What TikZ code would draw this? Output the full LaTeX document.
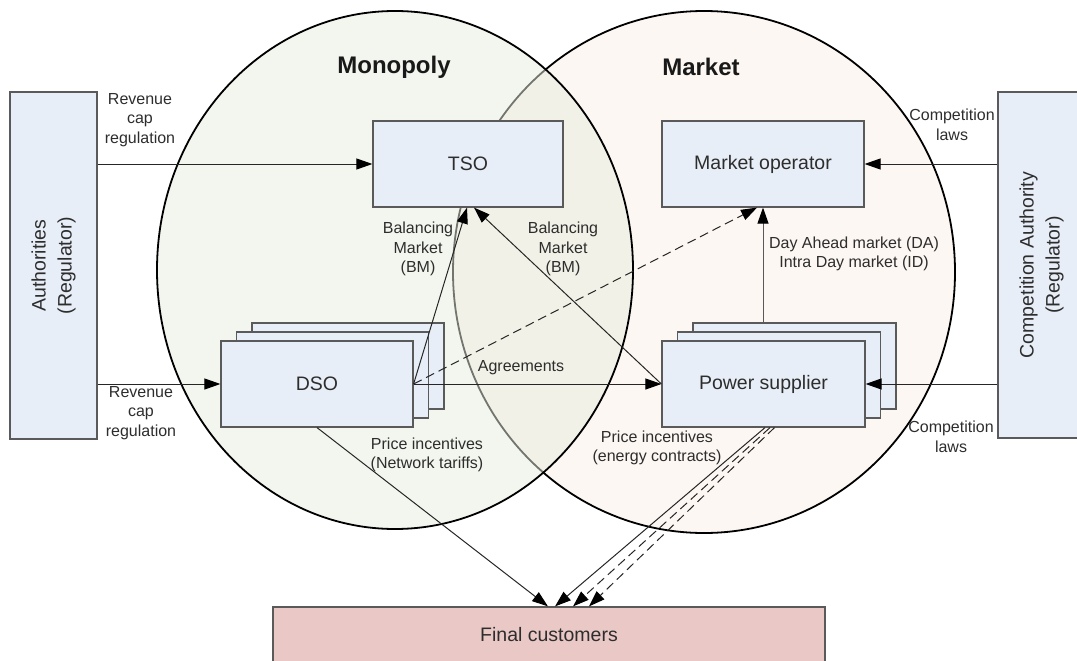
\documentclass[tikz,border=0pt]{standalone}
\usepackage{fontspec}
\setmainfont{Liberation Sans}
\usetikzlibrary{arrows.meta}

\definecolor{boxfill}{RGB}{232,238,247}
\definecolor{boxline}{RGB}{90,90,90}
\definecolor{custfill}{RGB}{234,200,197}
\definecolor{monofill}{RGB}{231,237,221}
\definecolor{markfill}{RGB}{252,247,242}
\definecolor{txt}{RGB}{45,45,45}

\begin{document}
\begin{tikzpicture}[x=1pt,y=-1pt,
  actor/.style={draw=boxline,fill=boxfill,line width=1.2pt,text=txt,inner sep=0pt,
    minimum height=86pt,align=center,font=\fontsize{19.5}{26}\selectfont},
  lbl/.style={text=txt,align=center,font=\fontsize{16}{19.5}\selectfont},
  head/.style={text=black!90,font=\fontsize{24}{28}\selectfont\bfseries},
  arr/.style={-{Triangle[length=16pt,width=11pt,color=black]},line width=1pt,draw=black!85},
  dasharr/.style={arr,dash pattern=on 9pt off 5pt}]
  \useasboundingbox (0,0) rectangle (1077,661);
  \clip (0,0) rectangle (1077,661);

  % the two areas
  \draw[line width=1.8pt,fill=markfill] (704,272) ellipse [x radius=251,y radius=261];
  \draw[line width=1.8pt,fill=monofill,fill opacity=0.5] (395,270) ellipse [x radius=238,y radius=259];
  \node[head] (mono) at (394,67) {Monopoly};
  \node[head] (mark) at (701,67) {Market};

  % regulators (rotated: south is the right side, north the left side)
  \node[actor,rotate=90,minimum width=347pt,minimum height=87pt] (auth) at (53.5,265.5) {Authorities\\(Regulator)};
  \node[actor,rotate=90,minimum width=346pt,minimum height=87pt] (comp) at (1041.5,265) {Competition Authority\\(Regulator)};

  \node[actor,minimum width=190pt] (tso) at (468,164) {TSO};
  \node[actor,minimum width=202pt] (mo) at (763,164) {Market operator};

  \node[actor,minimum width=192pt] (dsoC) at (348,366) {};
  \node[actor,minimum width=192pt] (dsoB) at (332.5,375) {};
  \node[actor,minimum width=192pt] (dso) at (317,384) {DSO};

  \node[actor,minimum width=203pt] (psC) at (794.5,366) {};
  \node[actor,minimum width=203pt] (psB) at (779,375) {};
  \node[actor,minimum width=203pt] (ps) at (763.5,384) {Power supplier};

  \node[actor,fill=custfill,minimum width=552pt,minimum height=56pt] (cust) at (549,635) {Final customers};

  % connectors
  \draw[arr] (auth.south |- tso.west) -- (tso.west);
  \draw[arr] (auth.south |- dso.west) -- (dso.west);
  \draw[arr] (comp.north |- mo.east) -- (mo.east);
  \draw[arr] (comp.north |- ps.east) -- (ps.east);
  \draw[arr,draw=black!65] (mo.south |- psC.north) -- (mo.south);
  \draw[arr] (dso.east) -- (ps.west);
  \draw[arr] (dso.east) -- ([xshift=-1pt]tso.south);
  \draw[arr] (ps.west) -- ([xshift=6pt]tso.south);
  \draw[dasharr] (dso.east) -- ([xshift=-6pt]mo.south);
  \draw[arr] (dso.south) -- ([xshift=-1pt]cust.north);
  \draw[arr] ([xshift=1.5pt]ps.south) -- ([xshift=6pt]cust.north);
  \draw[dasharr] ([xshift=6.5pt]ps.south) -- ([xshift=24pt]cust.north);
  \draw[dasharr] ([xshift=11pt]ps.south) -- ([xshift=40pt]cust.north);

  % labels
  \node[lbl] (revT) at (140,120) {Revenue\\cap\\regulation};
  \node[lbl] (revB) at (141,413) {Revenue\\cap\\regulation};
  \node[lbl] (lawT) at (952,125) {Competition\\laws};
  \node[lbl] (lawB) at (951,437) {Competition\\laws};
  \node[lbl] (bmL) at (418,249) {Balancing\\Market\\(BM)};
  \node[lbl] (bmR) at (563,249) {Balancing\\Market\\(BM)};
  \node[lbl] (daid) at (854,254) {Day Ahead market (DA)\\Intra Day market (ID)};
  \node[lbl] (agree) at (521,368) {Agreements};
  \node[lbl] (tariff) at (427,455) {Price incentives\\(Network tariffs)};
  \node[lbl] (contract) at (657,448) {Price incentives\\(energy contracts)};
\end{tikzpicture}
\end{document}
